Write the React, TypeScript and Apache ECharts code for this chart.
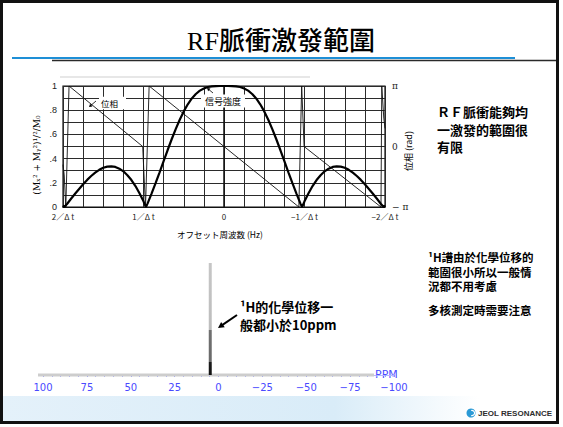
import React, { useEffect, useRef } from 'react';
import * as echarts from 'echarts';

// Offset frequency in units of 1/Δt (positive on the left of the plot)
const offsets = [
  -2.0, -1.985, -1.95, -1.9, -1.85, -1.8, -1.75, -1.7, -1.65, -1.6, -1.55, -1.5, -1.45, -1.4,
  -1.35, -1.3, -1.25, -1.2, -1.15, -1.1, -1.05, -1.0, -0.97, -0.95, -0.9, -0.85, -0.8, -0.75,
  -0.7, -0.65, -0.6, -0.55, -0.5, -0.45, -0.4, -0.35, -0.3, -0.25, -0.2, -0.15, -0.1, -0.05,
  0,
  0.05, 0.1, 0.15, 0.2, 0.25, 0.3, 0.35, 0.4, 0.45, 0.5, 0.55, 0.6, 0.65, 0.7, 0.75, 0.8, 0.85,
  0.9, 0.95, 0.97, 1.0, 1.05, 1.1, 1.15, 1.2, 1.25, 1.3, 1.35, 1.4, 1.45, 1.5, 1.55, 1.6, 1.65,
  1.7, 1.75, 1.8, 1.85, 1.9, 1.95, 1.985, 2.0,
];

// Transverse magnetisation (Mx² + My²)^1/2 / M0
const signal = [
  0.012, 0.0, 0.025, 0.068, 0.109, 0.149, 0.188, 0.224, 0.256, 0.284, 0.307, 0.324, 0.334, 0.336,
  0.331, 0.317, 0.295, 0.263, 0.223, 0.173, 0.114, 0.047, 0.0, 0.028, 0.111, 0.197, 0.287, 0.38,
  0.471, 0.56, 0.644, 0.721, 0.79, 0.849, 0.897, 0.934, 0.962, 0.98, 0.992, 0.997, 0.999, 1.0,
  1.0,
  1.0, 0.999, 0.997, 0.992, 0.98, 0.962, 0.934, 0.897, 0.849, 0.79, 0.721, 0.644, 0.56, 0.471, 0.38,
  0.287, 0.197, 0.111, 0.028, 0.0, 0.047, 0.114, 0.173, 0.223, 0.263, 0.295, 0.317, 0.331, 0.336,
  0.334, 0.324, 0.307, 0.284, 0.256, 0.224, 0.188, 0.149, 0.109, 0.068, 0.025, 0.0, 0.012,
];

// Phase of the transverse magnetisation, in units of π
const phaseOffsets = [2.0, 1.985, 1.965, 1.925, 1.01, 0.975, 0.93, 0, -0.93, -0.965, -0.995, -1.95, -1.96, -1.985, -2.0];
const phaseValues = [-0.3, -0.47, -1.0, 1.0, 0.0, -1.0, 1.0, 0.0, -1.0, 1.0, 0.0, -1.0, 1.0, 0.47, 0.3];

const offsetTickValues = [2, 1, 0, -1, -2];
const offsetTickLabels = ['2／Δ t', '1／Δ t', '0', '−1／Δ t', '−2／Δ t'];
const signalTickValues = [0, 0.2, 0.4, 0.6, 0.8, 1];
const signalTickLabels = ['0', '.2', '.4', '.6', '.8', '1'];
const phaseTickValues = [-1, 0, 1];
const phaseTickLabels = ['− π', '0', 'π'];

// 1H spectrum shown on a ±100 ppm scale
const peakPpm = [4.7];
const peakHeight = [1];

const W = 563;
const H = 427;
const TC = '"Noto Sans CJK TC", "Noto Sans CJK JP", sans-serif';
const JP = '"Noto Sans CJK JP", "Noto Sans CJK TC", sans-serif';

function text(x: number, y: number, t: string, font: string, extra: any = {}, el: any = {}) {
  return {
    type: 'text',
    x,
    y,
    silent: true,
    ...el,
    style: {
      text: t,
      font,
      fill: '#000',
      align: 'left',
      verticalAlign: 'middle',
      textAlign: 'left',
      textVerticalAlign: 'middle',
      ...extra,
    },
  };
}

function arrow(x1: number, y1: number, x2: number, y2: number, head: number, half: number, width: number, color = '#000') {
  const dx = x2 - x1;
  const dy = y2 - y1;
  const len = Math.hypot(dx, dy);
  const ux = dx / len;
  const uy = dy / len;
  const bx = x2 - ux * head;
  const by = y2 - uy * head;
  return [
    {
      type: 'line',
      silent: true,
      shape: { x1, y1, x2: bx + ux * 1, y2: by + uy * 1 },
      style: { stroke: color, lineWidth: width },
    },
    {
      type: 'polygon',
      silent: true,
      shape: {
        points: [
          [x2, y2],
          [bx - uy * half, by + ux * half],
          [bx + uy * half, by - ux * half],
        ],
      },
      style: { fill: color },
    },
  ];
}

function labelFor(values: number[], labels: string[], v: number) {
  for (let i = 0; i < values.length; i++) {
    if (Math.abs(values[i] - v) < 1e-6) return labels[i];
  }
  return '';
}

export default function App() {
  const ref = useRef<HTMLDivElement>(null);

  useEffect(() => {
    if (!ref.current) return;
    const chart = echarts.init(ref.current, undefined, { renderer: 'svg' });

    const gridLine = { show: true, lineStyle: { color: '#2b2b2b', width: 1 } };

    const option: any = {
      animation: false,
      backgroundColor: '#fff',
      grid: [
        { left: 63, top: 86, width: 322, height: 121, show: true, borderColor: '#111', borderWidth: 1.2, backgroundColor: 'transparent' },
        { left: 43, top: 263, width: 351, height: 112 },
      ],
      xAxis: [
        {
          gridIndex: 0,
          type: 'value',
          min: -2,
          max: 2,
          interval: 0.25,
          inverse: true,
          axisLine: { show: true, lineStyle: { color: '#111', width: 1.2 } },
          axisTick: { show: false },
          splitLine: gridLine,
          axisLabel: {
            fontSize: 8,
            fontFamily: JP,
            color: '#222',
            margin: 5,
            showMinLabel: true,
            showMaxLabel: true,
            formatter: (v: number) => labelFor(offsetTickValues, offsetTickLabels, v),
          },
        },
        {
          gridIndex: 1,
          type: 'value',
          min: -100,
          max: 100,
          interval: 25,
          inverse: true,
          offset: 4,
          axisLine: { show: true, lineStyle: { color: '#b4b8ff', width: 1 } },
          axisTick: { show: true, length: 2, lineStyle: { color: '#8a90ff' } },
          minorTick: { show: true, splitNumber: 5, length: 2, lineStyle: { color: '#9aa0ff' } },
          splitLine: { show: false },
          axisLabel: {
            fontSize: 10,
            fontFamily: '"DejaVu Sans", sans-serif',
            color: '#4a4aff',
            margin: 3,
            showMinLabel: true,
            showMaxLabel: true,
            formatter: (v: number) => String(v).replace('-', '−'),
          },
        },
      ],
      yAxis: [
        {
          gridIndex: 0,
          type: 'value',
          min: 0,
          max: 1,
          interval: 0.1,
          axisLine: { show: true, lineStyle: { color: '#111', width: 1.5 } },
          axisTick: { show: false },
          splitLine: gridLine,
          axisLabel: {
            fontSize: 9,
            fontFamily: '"Liberation Sans", sans-serif',
            color: '#222',
            margin: 6,
            showMinLabel: true,
            showMaxLabel: true,
            formatter: (v: number) => labelFor(signalTickValues, signalTickLabels, v),
          },
        },
        {
          gridIndex: 0,
          type: 'value',
          position: 'right',
          min: -1,
          max: 1,
          interval: 1,
          axisLine: { show: false },
          axisTick: { show: false },
          splitLine: { show: false },
          axisLabel: {
            fontSize: 9,
            fontFamily: '"DejaVu Serif", serif',
            color: '#222',
            margin: 7,
            showMinLabel: true,
            showMaxLabel: true,
            formatter: (v: number) => labelFor(phaseTickValues, phaseTickLabels, v),
          },
        },
        {
          gridIndex: 1,
          type: 'value',
          min: 0,
          max: 1,
          show: false,
        },
      ],
      series: [
        {
          name: '信号強度',
          type: 'line',
          xAxisIndex: 0,
          yAxisIndex: 0,
          showSymbol: false,
          symbol: 'none',
          data: offsets.map((o, i) => [o, signal[i]]),
          lineStyle: { color: '#000', width: 2.2 },
          z: 5,
        },
        {
          name: '位相',
          type: 'line',
          xAxisIndex: 0,
          yAxisIndex: 1,
          showSymbol: false,
          symbol: 'none',
          data: phaseOffsets.map((o, i) => [o, phaseValues[i]]),
          lineStyle: { color: '#111', width: 0.9 },
          z: 4,
        },
        {
          name: '1H',
          type: 'bar',
          xAxisIndex: 1,
          yAxisIndex: 2,
          barWidth: 3,
          data: peakPpm.map((p, i) => [p, peakHeight[i]]),
          itemStyle: {
            color: new echarts.graphic.LinearGradient(0, 0, 0, 1, [
              { offset: 0, color: '#c6c6c6' },
              { offset: 0.6, color: '#bdbdbd' },
              { offset: 0.6, color: '#707070' },
              { offset: 0.88, color: '#6a6a6a' },
              { offset: 0.88, color: '#1c1c1c' },
              { offset: 1, color: '#111' },
            ]),
          },
          z: 3,
        },
      ],
      graphic: {
        elements: [
          // bottom band
          {
            type: 'rect',
            silent: true,
            z: -10,
            shape: { x: 3, y: 396, width: 553, height: 25 },
            style: {
              fill: new echarts.graphic.LinearGradient(0, 0, 1, 0, [
                { offset: 0, color: '#e4f1fa' },
                { offset: 0.6, color: '#d9ecf8' },
                { offset: 0.86, color: '#ffffff' },
                { offset: 1, color: '#ffffff' },
              ]),
            },
          },
          // slide frame
          {
            type: 'rect',
            silent: true,
            z: 100,
            shape: { x: 1.5, y: 1.5, width: 556, height: 421 },
            style: { fill: 'none', stroke: '#111', lineWidth: 3 },
          },
          // title and its rule
          text(281, 41, 'RF脈衝激發範圍', `500 26px "Liberation Serif", ${TC}`, { align: 'center', textAlign: 'center' }),
          {
            type: 'line',
            silent: true,
            shape: { x1: 12, y1: 58, x2: 515, y2: 58 },
            style: { stroke: '#1e8fd6', lineWidth: 2.2 },
          },
          {
            type: 'line',
            silent: true,
            shape: { x1: 52, y1: 60.5, x2: 556, y2: 60.5 },
            style: { stroke: '#2a2a2a', lineWidth: 1.6 },
          },
          // faint rule above the plot
          {
            type: 'line',
            silent: true,
            shape: { x1: 60, y1: 77, x2: 310, y2: 77 },
            style: { stroke: '#cfcfcf', lineWidth: 1 },
          },
          // axis names
          text(37, 155, '(Mₓ² + Mᵧ²)¹/²/M₀', '9px "DejaVu Serif", serif', { align: 'center', textAlign: 'center' }, { rotation: Math.PI / 2 }),
          text(408, 151, '位相 (rad)', `9px ${JP}`, { align: 'center', textAlign: 'center' }, { rotation: Math.PI / 2 }),
          text(220, 234, 'オフセット周波数 (Hz)', `8.5px ${JP}`, { align: 'center', textAlign: 'center' }),
          // curve labels inside the plot
          text(99, 103, '位相', `8.5px ${JP}`, { backgroundColor: '#fff', padding: [2, 8, 2, 2] }, { z: 10 }),
          ...arrow(96, 101, 89, 107, 3, 1.8, 0.8).map((e) => ({ ...e, z: 11 })),
          text(223, 101, '信号強度', `9px ${JP}`, { align: 'center', textAlign: 'center', backgroundColor: '#fff', padding: [2, 4, 2, 4] }, { z: 10 }),
          ...arrow(213, 93, 207, 88, 3, 1.8, 0.8).map((e) => ({ ...e, z: 11 })),
          // right-hand notes
          text(437, 129, 'ＲＦ脈衝能夠均\n一激發的範圍很\n有限', `bold 13px ${TC}`, { lineHeight: 17.5 }),
          text(428, 271.5, '¹H譜由於化學位移的\n範圍很小所以一般情\n況都不用考慮', `bold 11.5px ${TC}`, { lineHeight: 14.5 }),
          text(428, 310, '多核測定時需要注意', `bold 11.5px ${TC}`),
          // spectrum annotation
          text(240, 315, '¹H的化學位移一\n般都小於10ppm', `bold 13px ${TC}`, { lineHeight: 18 }),
          ...arrow(237, 315, 218, 328, 6, 3.2, 2),
          // spectrum baseline and unit
          {
            type: 'rect',
            silent: true,
            z: 1,
            shape: { x: 38, y: 373.5, width: 336, height: 3 },
            style: { fill: '#cdcdcd' },
          },
          text(375, 374.5, 'PPM', '11px "DejaVu Sans", sans-serif', { fill: '#4a4aff' }),
          // logo
          {
            type: 'circle',
            silent: true,
            shape: { cx: 471, cy: 413, r: 4.5 },
            style: { fill: '#2b9ad6' },
          },
          {
            type: 'arc',
            silent: true,
            shape: { cx: 472, cy: 413, r: 2.6, startAngle: -Math.PI * 0.6, endAngle: Math.PI * 0.6 },
            style: { stroke: '#fff', lineWidth: 1.2, fill: 'none' },
          },
          text(478, 413.5, 'JEOL RESONANCE', 'bold 8px "Liberation Sans", sans-serif', { fill: '#2d2d2d' }),
        ],
      },
    };

    chart.setOption(option);
    return () => chart.dispose();
  }, []);

  return (
    <div
      ref={ref}
      style={{ position: 'fixed', left: 0, top: 0, width: W, height: H, background: '#fff' }}
    />
  );
}
